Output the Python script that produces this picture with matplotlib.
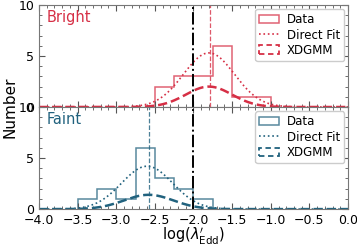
import numpy as np
import matplotlib
matplotlib.use("Agg")
from matplotlib import pyplot as plt
from matplotlib.patches import Patch
from matplotlib.lines import Line2D
from matplotlib import ticker

# histogram bin edges (log lambda'_Edd)
bright_edges = [-2.5, -2.25, -2.0, -1.75, -1.5, -1.25, -1.0]
bright_counts = [2, 3, 3, 6, 1, 1]
faint_edges = [-3.5, -3.25, -3.0, -2.75, -2.5, -2.25, -2.0, -1.75]
faint_counts = [1, 2, 1, 6, 3, 2, 1]

# gaussian fits: (amplitude, mean, sigma)
bright_direct = (5.3, -1.80, 0.33)
bright_xd = (2.0, -1.80, 0.30)
faint_direct = (4.2, -2.60, 0.33)
faint_xd = (1.4, -2.58, 0.32)

bright_peak = -1.79
faint_peak = -2.58
cut = -2.0

red = "#d62f45"
teal = "#21627e"


def gauss(x, p):
    a, m, s = p
    return a * np.exp(-0.5 * ((x - m) / s) ** 2)


fig = plt.figure(figsize=(3.57, 2.46), dpi=100)
ax1 = fig.add_axes([0.109, 0.565, 0.866, 0.415])
ax2 = fig.add_axes([0.109, 0.150, 0.866, 0.415], sharex=ax1)

xx = np.linspace(-4, 0, 400)

panels = [
    (ax1, bright_edges, bright_counts, bright_direct, bright_xd, bright_peak, red, "Bright"),
    (ax2, faint_edges, faint_counts, faint_direct, faint_xd, faint_peak, teal, "Faint"),
]

for ax, edges, counts, direct, xd, peak, c, name in panels:
    ax.stairs(counts, edges, color=c, alpha=0.75, lw=1.1, baseline=0)
    ax.plot(xx, gauss(xx, direct), ls=":", color=c, lw=1.2)
    ax.plot(xx, gauss(xx, xd), ls="--", color=c, lw=1.8)
    ax.axvline(peak, color=c, ls="--", lw=0.9, alpha=0.8)
    ax.axvline(cut, color="k", ls="-.", lw=1.4)
    ax.set_xlim(-4, 0)
    ax.set_ylim(0, 10)
    ax.text(0.025, 0.88, name, transform=ax.transAxes, color=c, fontsize=10.5,
            va="center", ha="left")
    handles = [
        Patch(facecolor="none", edgecolor=c, alpha=0.75, lw=1.1),
        Line2D([], [], ls=":", color=c, lw=1.2),
        Patch(facecolor="none", edgecolor=c, ls=(0, (3, 2)), lw=1.3),
    ]
    ax.legend(handles, ["Data", "Direct Fit", "XDGMM"], loc="upper right",
              fontsize=8.5, handlelength=1.7, handleheight=0.75, labelspacing=0.2,
              borderpad=0.35, handletextpad=0.6, borderaxespad=0.35,
              framealpha=1, edgecolor="#cccccc")
    ax.xaxis.set_major_locator(ticker.MultipleLocator(0.5))
    ax.xaxis.set_minor_locator(ticker.MultipleLocator(0.1))
    ax.yaxis.set_major_locator(ticker.MultipleLocator(5))
    ax.yaxis.set_minor_locator(ticker.MultipleLocator(1))
    ax.tick_params(which="both", direction="in", top=True, right=True,
                   colors="#555555", labelcolor="k", labelsize=9)
    ax.tick_params(which="major", length=4)
    ax.tick_params(which="minor", length=2)
    for sp in ax.spines.values():
        sp.set_color("#777777")

ax1.tick_params(labelbottom=False)
ax2.set_xlabel(r"$\log(\lambda_{\rm Edd}^{\prime})$", fontsize=10.5, labelpad=-1)
fig.text(0.028, 0.565, "Number", rotation=90, va="center", ha="center", fontsize=11)

plt.savefig("out.png", dpi=100)
